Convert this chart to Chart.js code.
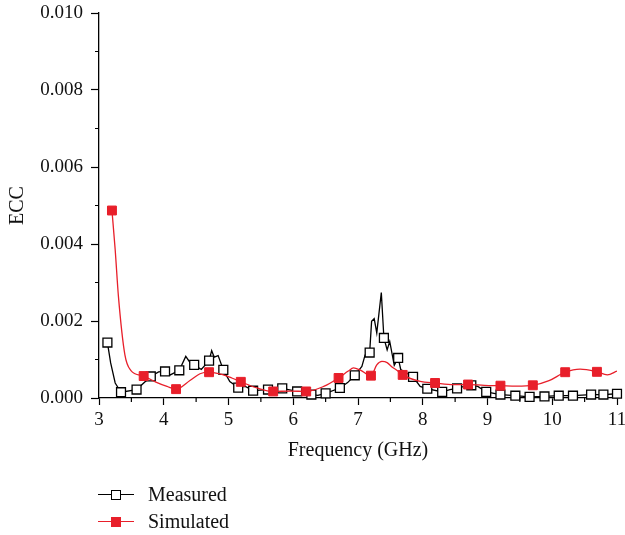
<!DOCTYPE html>
<html lang="en">
<head>
<meta charset="UTF-8">
<title>ECC</title>
<script src="https://cdn.jsdelivr.net/npm/chart.js"></script>
<style>
    body {
        margin: 0;
        background: #fff;
        font-family: 'Liberation Serif', 'Times New Roman', serif;
    }
    .wrap {
        position: relative;
        width: 625px;
        height: 535px;
    }
    .legend {
        position: absolute;
        left: 98px;
        top: 481px;
        font-size: 20px;
        color: #111;
    }
    .legend .row {
        height: 27px;
        display: flex;
        align-items: center;
    }
    .sym {
        position: relative;
        width: 36px;
        height: 12px;
        margin-right: 14px;
    }
    .sym .ln {
        position: absolute;
        left: 0;
        right: 0;
        top: 5px;
        height: 1.4px;
    }
    .sym .mk {
        position: absolute;
        left: 13px;
        top: 1px;
        width: 10px;
        height: 10px;
        box-sizing: border-box;
    }
</style>
</head>
<body>
<div class="wrap">
    <canvas id="ecc" width="625" height="535"></canvas>
    <div class="legend">
        <div class="row">
            <div class="sym"><div class="ln" style="background:#000"></div><div class="mk" style="background:#fff;border:1.4px solid #000"></div></div>
            <span>Measured</span>
        </div>
        <div class="row">
            <div class="sym"><div class="ln" style="background:#e81f2a"></div><div class="mk" style="background:#e81f2a"></div></div>
            <span>Simulated</span>
        </div>
    </div>
</div>
<script>
    // measured: marker points and extra line vertices in between
    const measMarkFreq = [3.13, 3.34, 3.58, 3.80, 4.02, 4.24, 4.47, 4.70, 4.92, 5.15, 5.38, 5.61, 5.83, 6.06, 6.28, 6.50, 6.72, 6.95, 7.18, 7.40, 7.62, 7.85, 8.07, 8.30, 8.53, 8.75, 8.98, 9.20, 9.43, 9.65, 9.88, 10.10, 10.32, 10.60, 10.79, 11.00];
    const measMarkEcc = [0.00144, 0.00015, 0.00022, 0.00056, 0.00069, 0.00072, 0.00086, 0.00097, 0.00073, 0.00027, 0.00019, 0.00022, 0.00025, 0.00017, 0.00009, 0.00012, 0.00026, 0.00059, 0.00118, 0.00156, 0.00104, 0.00055, 0.00024, 0.00016, 0.00025, 0.00033, 0.00016, 0.00009, 0.00006, 0.00003, 0.00004, 0.00006, 0.00006, 0.00009, 0.00009, 0.00011];
    const measLineFreq = [3.18, 3.25, 3.92, 4.10, 4.34, 4.41, 4.58, 4.74, 4.78, 4.84, 5.02, 5.26, 6.17, 6.38, 6.84, 7.06, 7.11, 7.21, 7.25, 7.29, 7.36, 7.45, 7.49, 7.56, 7.66, 7.96, 8.42, 8.64, 8.85, 9.10];
    const measLineEcc = [0.00091, 0.00039, 0.00068, 0.00060, 0.00108, 0.00091, 0.00074, 0.00123, 0.00106, 0.00110, 0.00043, 0.00030, 0.00012, 0.00007, 0.00040, 0.00082, 0.00112, 0.00199, 0.00206, 0.00169, 0.00274, 0.00125, 0.00147, 0.00085, 0.00074, 0.00030, 0.00022, 0.00030, 0.00030, 0.00012];

    // simulated: marker points and extra curve vertices
    const simMarkFreq = [3.20, 3.69, 4.19, 4.70, 5.19, 5.69, 6.20, 6.70, 7.20, 7.69, 8.19, 8.70, 9.20, 9.70, 10.20, 10.69];
    const simMarkEcc = [0.00487, 0.00057, 0.00023, 0.00067, 0.00042, 0.00017, 0.00017, 0.00052, 0.00058, 0.00060, 0.00039, 0.00035, 0.00032, 0.00033, 0.00067, 0.00068];
    const simLineFreq = [3.25, 3.30, 3.40, 3.49, 3.87, 4.05, 4.41, 4.56, 4.92, 5.05, 5.44, 5.95, 6.47, 6.85, 6.93, 7.03, 7.29, 7.37, 7.45, 7.53, 7.61, 7.96, 8.48, 8.95, 9.45, 9.95, 10.43, 10.85, 11.00];
    const simLineEcc = [0.00385, 0.00264, 0.00112, 0.00072, 0.00042, 0.00030, 0.00046, 0.00063, 0.00060, 0.00052, 0.00026, 0.00018, 0.00030, 0.00070, 0.00078, 0.00073, 0.00086, 0.00095, 0.00092, 0.00080, 0.00071, 0.00043, 0.00035, 0.00033, 0.00031, 0.00045, 0.00075, 0.00060, 0.00070];

    const RED = '#e81f2a';
    const FONT = "'Liberation Serif', 'Times New Roman', serif";

    const toPts = (xs, ys) => xs.map((x, i) => ({ x: x, y: ys[i] }));
    const merge = (a, b) => a.concat(b).sort((p, q) => p.x - q.x);

    const measMarks = toPts(measMarkFreq, measMarkEcc);
    const measLine = merge(measMarks, toPts(measLineFreq, measLineEcc));
    const simMarks = toPts(simMarkFreq, simMarkEcc);
    const simLine = merge(simMarks, toPts(simLineFreq, simLineEcc));

    const isInt = v => Math.abs(v - Math.round(v)) < 1e-6;
    const isEven = v => Math.round(v * 1000) % 2 === 0;

    // short minor ticks, drawn by hand
    const minorTicks = {
        id: 'minorTicks',
        afterDraw(chart) {
            const ctx = chart.ctx;
            const xs = chart.scales.x, ys = chart.scales.y;
            ctx.save();
            ctx.strokeStyle = '#000';
            ctx.lineWidth = 1.2;
            ctx.beginPath();
            xs.ticks.forEach(t => {
                if (isInt(t.value)) return;
                const px = xs.getPixelForValue(t.value);
                ctx.moveTo(px, xs.top);
                ctx.lineTo(px, xs.top + 4);
            });
            ys.ticks.forEach(t => {
                if (isEven(t.value)) return;
                const py = ys.getPixelForValue(t.value);
                ctx.moveTo(ys.right - 4, py);
                ctx.lineTo(ys.right, py);
            });
            ctx.stroke();
            ctx.restore();
        }
    };

    new Chart(document.getElementById('ecc'), {
        type: 'line',
        data: {
            datasets: [
                {
                    label: 'Simulated',
                    data: simMarks,
                    showLine: false,
                    pointStyle: 'rect',
                    pointRadius: 6.3,
                    pointBackgroundColor: RED,
                    pointBorderColor: RED,
                    pointBorderWidth: 1,
                    clip: false,
                    order: 0
                },
                {
                    label: 'Simulated line',
                    data: simLine,
                    borderColor: RED,
                    borderWidth: 1.3,
                    pointRadius: 0,
                    cubicInterpolationMode: 'monotone',
                    order: 1
                },
                {
                    label: 'Measured',
                    data: measMarks,
                    showLine: false,
                    pointStyle: 'rect',
                    pointRadius: 6.3,
                    pointBackgroundColor: '#fff',
                    pointBorderColor: '#000',
                    pointBorderWidth: 1.3,
                    clip: false,
                    order: 2
                },
                {
                    label: 'Measured line',
                    data: measLine,
                    borderColor: '#000',
                    borderWidth: 1.3,
                    pointRadius: 0,
                    tension: 0,
                    order: 3
                }
            ]
        },
        options: {
            responsive: false,
            animation: false,
            layout: { padding: { left: 0, top: 13, right: 8, bottom: 72 } },
            plugins: {
                legend: { display: false },
                tooltip: { enabled: false }
            },
            scales: {
                x: {
                    type: 'linear',
                    min: 3,
                    max: 11,
                    afterFit: s => { s.height = 65; s.paddingLeft = 0; s.paddingRight = 0; },
                    ticks: {
                        stepSize: 0.5,
                        autoSkip: false,
                        maxRotation: 0,
                        padding: 4,
                        color: '#111',
                        font: { family: FONT, size: 19 },
                        callback: v => isInt(v) ? String(Math.round(v)) : ''
                    },
                    grid: {
                        drawOnChartArea: false,
                        drawTicks: true,
                        tickLength: 7,
                        tickWidth: 1.2,
                        tickColor: c => isInt(c.tick.value) ? '#000' : 'rgba(0,0,0,0)'
                    },
                    border: { color: '#000', width: 1.3 },
                    title: {
                        display: true,
                        text: 'Frequency (GHz)',
                        color: '#111',
                        font: { family: FONT, size: 20 },
                        padding: { top: 0, bottom: 0 }
                    }
                },
                y: {
                    min: 0,
                    max: 0.010,
                    afterFit: s => { s.width = 99; s.paddingTop = 0; s.paddingBottom = 0; },
                    ticks: {
                        stepSize: 0.001,
                        autoSkip: false,
                        padding: 8,
                        color: '#111',
                        font: { family: FONT, size: 19 },
                        callback: v => isEven(v) ? v.toFixed(3) : ''
                    },
                    grid: {
                        drawOnChartArea: false,
                        drawTicks: true,
                        tickLength: 8,
                        tickWidth: 1.2,
                        tickColor: c => isEven(c.tick.value) ? '#000' : 'rgba(0,0,0,0)'
                    },
                    border: { color: '#000', width: 1.3 },
                    title: {
                        display: true,
                        text: 'ECC',
                        color: '#111',
                        font: { family: FONT, size: 20 },
                        padding: { top: 6, bottom: 0 }
                    }
                }
            }
        },
        plugins: [minorTicks]
    });
</script>
</body>
</html>
